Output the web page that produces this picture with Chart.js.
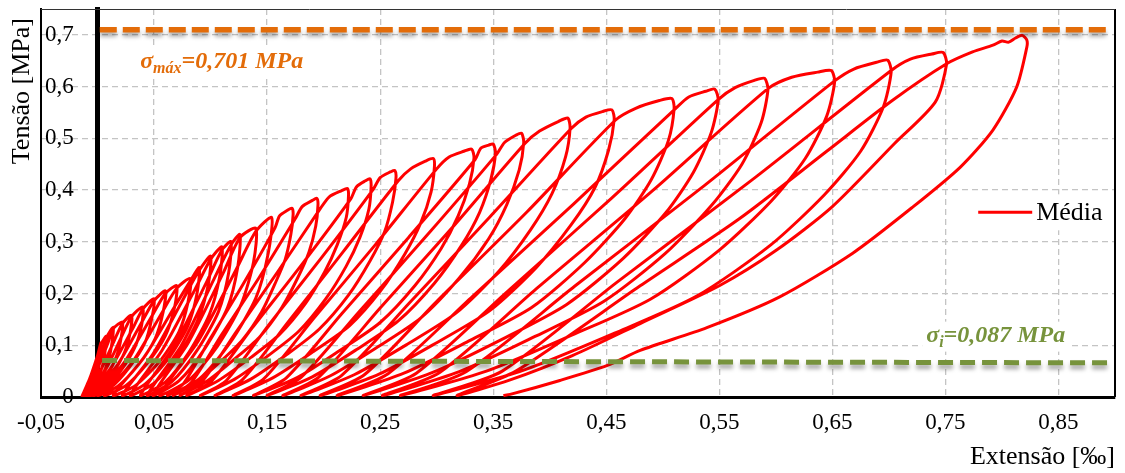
<!DOCTYPE html>
<html>
<head>
<meta charset="utf-8">
<script src="https://cdn.jsdelivr.net/npm/chart.js@4.4.1/dist/chart.umd.min.js"></script>
<style>
  html, body { margin: 0; padding: 0; background: #fff; }
  #wrap { width: 1125px; height: 473px; }
</style>
</head>
<body>
<div id="wrap"><canvas id="grafico" width="1125" height="473"></canvas></div>
<script>
// eixo x - extensão [‰]
const xTickValues = [-0.05, 0.05, 0.15, 0.25, 0.35, 0.45, 0.55, 0.65, 0.75, 0.85];
const xTickLabels = ['-0,05', '0,05', '0,15', '0,25', '0,35', '0,45', '0,55', '0,65', '0,75', '0,85'];
// eixo y - tensão [MPa]
const yTickValues = [0, 0.1, 0.2, 0.3, 0.4, 0.5, 0.6, 0.7];
const yTickLabels = ['0', '0,1', '0,2', '0,3', '0,4', '0,5', '0,6', '0,7'];

// linhas tracejadas de referência
const sigmaMaxX = [0.002, 0.894];
const sigmaMaxY = [0.710, 0.710];
const sigmaIX = [0.004, 0.895];
const sigmaIY = [0.0705, 0.066];

const labelMax = ['σ', 'máx', '=0,701 MPa'];
const labelI = ['σ', 'i', '=0,087 MPa'];
const serieNome = 'Média';

// curva média [extensão, tensão] - ciclos de carga e descarga
const mediaCurve = [
  [-0.014, 0.000],
  // ciclo 1
  [-0.007, 0.035], [0.000, 0.080], [0.003, 0.105],
  [0.002, 0.084], [0.001, 0.058], [-0.003, 0.032], [-0.008, 0.011], [-0.013, 0.003],
  // ciclo 2
  [-0.007, 0.035], [0.000, 0.080], [0.003, 0.102], [0.008, 0.118],
  [0.007, 0.094], [0.005, 0.065], [0.000, 0.035], [-0.007, 0.012], [-0.013, 0.003],
  // ciclo 3
  [-0.005, 0.039], [0.004, 0.090], [0.008, 0.115], [0.014, 0.135],
  [0.013, 0.108], [0.010, 0.074], [0.004, 0.041], [-0.004, 0.014], [-0.012, 0.003],
  // ciclo 4
  [-0.002, 0.045], [0.009, 0.103], [0.014, 0.132], [0.022, 0.145],
  [0.021, 0.116], [0.017, 0.080], [0.009, 0.044], [-0.001, 0.015], [-0.011, 0.003],
  // ciclo 5
  [0.002, 0.048], [0.015, 0.110], [0.022, 0.142], [0.030, 0.158],
  [0.029, 0.126], [0.024, 0.087], [0.014, 0.047], [0.003, 0.016], [-0.009, 0.003],
  // ciclo 6
  [0.007, 0.052], [0.022, 0.120], [0.030, 0.155], [0.040, 0.174],
  [0.039, 0.139], [0.033, 0.096], [0.021, 0.052], [0.007, 0.017], [-0.007, 0.003],
  // ciclo 7
  [0.012, 0.057], [0.031, 0.132], [0.040, 0.170], [0.050, 0.190],
  [0.048, 0.152], [0.042, 0.105], [0.028, 0.057], [0.012, 0.019], [-0.004, 0.003],
  // ciclo 8
  [0.018, 0.063], [0.039, 0.144], [0.050, 0.186], [0.060, 0.205],
  [0.058, 0.164], [0.051, 0.113], [0.036, 0.062], [0.018, 0.021], [0.000, 0.003],
  // ciclo 9
  [0.024, 0.068], [0.048, 0.156], [0.060, 0.200], [0.070, 0.215],
  [0.068, 0.172], [0.060, 0.118], [0.044, 0.065], [0.025, 0.022], [0.006, 0.003],
  // ciclo 10
  [0.032, 0.071], [0.057, 0.163], [0.070, 0.210], [0.082, 0.229],
  [0.080, 0.183], [0.072, 0.126], [0.055, 0.069], [0.034, 0.023], [0.014, 0.003],
  // ciclo 11
  [0.041, 0.076], [0.068, 0.174], [0.082, 0.224], [0.090, 0.250],
  [0.088, 0.200], [0.080, 0.138], [0.063, 0.075], [0.042, 0.025], [0.022, 0.003],
  // ciclo 12
  [0.049, 0.083], [0.076, 0.190], [0.090, 0.245], [0.100, 0.272],
  [0.098, 0.218], [0.089, 0.150], [0.072, 0.082], [0.050, 0.027], [0.029, 0.003],
  // ciclo 13
  [0.057, 0.090], [0.086, 0.207], [0.100, 0.266], [0.110, 0.290],
  [0.108, 0.232], [0.099, 0.160], [0.081, 0.087], [0.060, 0.029], [0.038, 0.003],
  // ciclo 14
  [0.067, 0.096], [0.096, 0.220], [0.110, 0.284], [0.118, 0.300],
  [0.116, 0.240], [0.107, 0.165], [0.088, 0.090], [0.066, 0.030], [0.044, 0.003],
  // ciclo 15
  [0.074, 0.099], [0.103, 0.228], [0.118, 0.294], [0.126, 0.314],
  [0.124, 0.251], [0.115, 0.173], [0.095, 0.094], [0.072, 0.031], [0.049, 0.003],
  // ciclo 16
  [0.080, 0.104], [0.111, 0.239], [0.126, 0.308], [0.140, 0.326],
  [0.138, 0.261], [0.127, 0.179], [0.106, 0.098], [0.081, 0.033], [0.055, 0.003],
  // ciclo 17
  [0.089, 0.108], [0.123, 0.248], [0.140, 0.320], [0.154, 0.347],
  [0.151, 0.278], [0.140, 0.191], [0.117, 0.104], [0.090, 0.035], [0.062, 0.003],
  // ciclo 18
  [0.076, 0.026], [0.100, 0.114], [0.129, 0.219], [0.157, 0.327], [0.161, 0.350], [0.168, 0.361], [0.172, 0.365],
  [0.173, 0.352], [0.171, 0.314], [0.166, 0.266], [0.157, 0.219], [0.145, 0.164], [0.128, 0.110], [0.109, 0.069], [0.088, 0.029], [0.067, 0.003],
  // ciclo 19
  [0.083, 0.028], [0.110, 0.121], [0.143, 0.231], [0.175, 0.345], [0.181, 0.368], [0.190, 0.380], [0.194, 0.384],
  [0.195, 0.371], [0.193, 0.330], [0.187, 0.280], [0.177, 0.230], [0.163, 0.173], [0.143, 0.115], [0.121, 0.073], [0.097, 0.031], [0.073, 0.003],
  // ciclo 20
  [0.092, 0.029], [0.123, 0.127], [0.160, 0.244], [0.197, 0.364], [0.205, 0.387], [0.216, 0.399], [0.221, 0.403],
  [0.222, 0.389], [0.220, 0.347], [0.212, 0.294], [0.201, 0.242], [0.184, 0.181], [0.161, 0.121], [0.136, 0.077], [0.107, 0.032], [0.079, 0.003],
  // ciclo 21
  [0.101, 0.031], [0.137, 0.134], [0.181, 0.257], [0.224, 0.383], [0.229, 0.406], [0.237, 0.418], [0.241, 0.422],
  [0.242, 0.407], [0.240, 0.363], [0.232, 0.308], [0.220, 0.253], [0.202, 0.190], [0.178, 0.127], [0.151, 0.080], [0.121, 0.034], [0.091, 0.003],
  // ciclo 22
  [0.114, 0.032], [0.152, 0.141], [0.198, 0.269], [0.244, 0.402], [0.250, 0.424], [0.259, 0.435], [0.263, 0.438],
  [0.264, 0.423], [0.261, 0.377], [0.254, 0.320], [0.241, 0.263], [0.222, 0.197], [0.196, 0.131], [0.168, 0.083], [0.136, 0.035], [0.104, 0.003],
  // ciclo 23
  [0.128, 0.033], [0.169, 0.146], [0.217, 0.280], [0.266, 0.418], [0.277, 0.441], [0.290, 0.456], [0.297, 0.461],
  [0.298, 0.445], [0.295, 0.396], [0.286, 0.337], [0.272, 0.277], [0.251, 0.207], [0.223, 0.138], [0.191, 0.088], [0.155, 0.037], [0.120, 0.003],
  // ciclo 24
  [0.147, 0.035], [0.192, 0.154], [0.246, 0.295], [0.300, 0.441], [0.311, 0.464], [0.324, 0.475], [0.331, 0.479],
  [0.333, 0.462], [0.329, 0.412], [0.319, 0.350], [0.304, 0.287], [0.281, 0.216], [0.250, 0.144], [0.215, 0.091], [0.177, 0.038], [0.138, 0.003],
  // ciclo 25
  [0.167, 0.037], [0.216, 0.161], [0.275, 0.308], [0.334, 0.459], [0.339, 0.481], [0.346, 0.487], [0.350, 0.489],
  [0.352, 0.472], [0.348, 0.421], [0.338, 0.357], [0.322, 0.293], [0.298, 0.220], [0.266, 0.147], [0.230, 0.093], [0.190, 0.039], [0.150, 0.003],
  // ciclo 26
  [0.180, 0.038], [0.231, 0.164], [0.292, 0.314], [0.353, 0.469], [0.360, 0.492], [0.370, 0.506], [0.375, 0.510],
  [0.377, 0.492], [0.373, 0.439], [0.362, 0.372], [0.346, 0.306], [0.320, 0.230], [0.286, 0.153], [0.248, 0.097], [0.206, 0.041], [0.164, 0.003],
  // ciclo 27
  [0.196, 0.039], [0.250, 0.172], [0.314, 0.328], [0.378, 0.490], [0.391, 0.514], [0.408, 0.533], [0.416, 0.539],
  [0.418, 0.520], [0.414, 0.464], [0.402, 0.393], [0.383, 0.323], [0.355, 0.243], [0.317, 0.162], [0.274, 0.102], [0.227, 0.043], [0.180, 0.003],
  // ciclo 28
  [0.216, 0.042], [0.276, 0.182], [0.347, 0.348], [0.419, 0.519], [0.432, 0.541], [0.447, 0.552], [0.455, 0.555],
  [0.457, 0.536], [0.452, 0.477], [0.440, 0.405], [0.419, 0.333], [0.388, 0.250], [0.347, 0.167], [0.300, 0.105], [0.249, 0.044], [0.197, 0.003],
  // ciclo 29
  [0.236, 0.043], [0.301, 0.187], [0.380, 0.358], [0.458, 0.535], [0.476, 0.558], [0.497, 0.573], [0.508, 0.577],
  [0.510, 0.557], [0.505, 0.496], [0.490, 0.421], [0.467, 0.346], [0.431, 0.260], [0.384, 0.173], [0.330, 0.110], [0.271, 0.046], [0.212, 0.003],
  // ciclo 30
  [0.257, 0.045], [0.332, 0.195], [0.421, 0.373], [0.511, 0.557], [0.523, 0.580], [0.538, 0.591], [0.546, 0.595],
  [0.549, 0.574], [0.543, 0.512], [0.527, 0.434], [0.503, 0.357], [0.465, 0.268], [0.415, 0.179], [0.359, 0.113], [0.297, 0.048], [0.235, 0.003],
  // ciclo 31
  [0.282, 0.046], [0.361, 0.201], [0.455, 0.385], [0.549, 0.575], [0.564, 0.598], [0.581, 0.612], [0.590, 0.616],
  [0.593, 0.594], [0.587, 0.530], [0.570, 0.450], [0.543, 0.370], [0.502, 0.277], [0.448, 0.185], [0.387, 0.117], [0.320, 0.049], [0.252, 0.003],
  // ciclo 32
  [0.303, 0.048], [0.388, 0.209], [0.491, 0.399], [0.593, 0.596], [0.614, 0.618], [0.637, 0.628], [0.649, 0.631],
  [0.652, 0.609], [0.645, 0.543], [0.626, 0.461], [0.596, 0.379], [0.550, 0.284], [0.489, 0.189], [0.420, 0.120], [0.344, 0.050], [0.268, 0.003],
  // ciclo 33
  [0.326, 0.049], [0.422, 0.214], [0.537, 0.409], [0.652, 0.611], [0.669, 0.634], [0.689, 0.647], [0.699, 0.651],
  [0.702, 0.628], [0.695, 0.560], [0.675, 0.475], [0.643, 0.391], [0.595, 0.293], [0.530, 0.195], [0.458, 0.124], [0.377, 0.052], [0.297, 0.003],
  // ciclo 34
  [0.358, 0.050], [0.459, 0.221], [0.581, 0.423], [0.702, 0.631], [0.719, 0.653], [0.738, 0.663], [0.748, 0.666],
  [0.751, 0.643], [0.741, 0.570], [0.705, 0.490], [0.650, 0.368], [0.600, 0.283], [0.550, 0.215], [0.480, 0.142], [0.420, 0.080], [0.365, 0.033], [0.318, 0.003],
  // ciclo 35 (ruptura)
  [0.370, 0.050], [0.480, 0.215], [0.568, 0.345], [0.645, 0.475], [0.703, 0.573], [0.751, 0.644],
  [0.774, 0.667], [0.792, 0.680], [0.800, 0.688], [0.806, 0.686], [0.812, 0.694], [0.818, 0.699],
  [0.822, 0.690], [0.822, 0.676], [0.813, 0.599], [0.792, 0.516], [0.763, 0.444], [0.721, 0.367], [0.668, 0.278],
  [0.603, 0.193], [0.539, 0.134], [0.480, 0.090], [0.451, 0.061], [0.409, 0.032], [0.365, 0.005], [0.359, 0.003]
];

const FONTE = '"Liberation Serif", "Times New Roman", serif';
Chart.defaults.font.family = FONTE;
Chart.defaults.color = '#000';

// sombra nas linhas tracejadas
function sombra(chart, args, on) {
  const ds = chart.data.datasets[args.index];
  if (!ds.sombra) return;
  const ctx = chart.ctx;
  if (on) {
    ctx.save();
    ctx.shadowColor = 'rgba(0,0,0,0.35)';
    ctx.shadowBlur = 4;
    ctx.shadowOffsetY = 4;
  } else {
    ctx.restore();
  }
}

// rótulo σ com subscrito e fundo branco
function rotulo(ctx, x, y, partes, cor) {
  ctx.font = 'italic bold 24px ' + FONTE;
  const w0 = ctx.measureText(partes[0]).width;
  const w2 = ctx.measureText(partes[2]).width;
  ctx.font = 'italic bold 16px ' + FONTE;
  const w1 = ctx.measureText(partes[1]).width;
  ctx.fillStyle = '#fff';
  ctx.fillRect(x - 4, y - 20, w0 + w1 + w2 + 8, 30);
  ctx.fillStyle = cor;
  ctx.textBaseline = 'alphabetic';
  ctx.textAlign = 'left';
  ctx.font = 'italic bold 24px ' + FONTE;
  ctx.fillText(partes[0], x, y);
  ctx.fillText(partes[2], x + w0 + w1, y);
  ctx.font = 'italic bold 16px ' + FONTE;
  ctx.fillText(partes[1], x + w0, y + 5);
}

const decor = {
  id: 'decor',
  beforeDatasetDraw(chart, args) { sombra(chart, args, true); },
  afterDatasetDraw(chart, args) { sombra(chart, args, false); },
  afterDraw(chart) {
    const ctx = chart.ctx;
    const a = chart.chartArea;
    const xs = chart.scales.x, ys = chart.scales.y;
    ctx.save();

    // moldura
    ctx.strokeStyle = '#000';
    ctx.lineWidth = 2;
    ctx.beginPath();
    ctx.moveTo(a.left, a.bottom); ctx.lineTo(a.left, a.top);
    ctx.moveTo(a.right, a.top); ctx.lineTo(a.right, a.bottom);
    ctx.stroke();
    ctx.strokeStyle = '#333';
    ctx.lineWidth = 1;
    ctx.beginPath();
    ctx.moveTo(a.left, a.top + 0.5); ctx.lineTo(a.right, a.top + 0.5);
    ctx.stroke();

    // rótulos
    rotulo(ctx, xs.getPixelForValue(0.0377), ys.getPixelForValue(0.635), labelMax, '#E36C09');
    rotulo(ctx, xs.getPixelForValue(0.733), ys.getPixelForValue(0.107), labelI, '#77933C');

    // legenda
    const lx = xs.getPixelForValue(0.779), ly = ys.getPixelForValue(0.357);
    ctx.fillStyle = '#fff';
    ctx.fillRect(lx - 6, ly - 18, 138, 36);
    ctx.strokeStyle = '#FF0000';
    ctx.lineWidth = 3;
    ctx.beginPath();
    ctx.moveTo(lx, ly); ctx.lineTo(lx + 54, ly);
    ctx.stroke();
    ctx.fillStyle = '#000';
    ctx.font = '26px ' + FONTE;
    ctx.textBaseline = 'middle';
    ctx.textAlign = 'left';
    ctx.fillText(serieNome, lx + 58, ly + 1);

    // título do eixo y
    ctx.translate(22, 18);
    ctx.rotate(-Math.PI / 2);
    ctx.textAlign = 'right';
    ctx.textBaseline = 'middle';
    ctx.font = '26px ' + FONTE;
    ctx.fillText('Tensão [MPa]', 0, 0);
    ctx.restore();
  }
};

const data = {
  datasets: [
    {
      label: 'σmáx',
      data: sigmaMaxX.map((x, i) => ({ x: x, y: sigmaMaxY[i] })),
      borderColor: '#E36C09',
      borderWidth: 5.5,
      borderDash: [17, 6],
      showLine: true,
      pointRadius: 0,
      sombra: true
    },
    {
      label: 'σi',
      data: sigmaIX.map((x, i) => ({ x: x, y: sigmaIY[i] })),
      borderColor: '#77933C',
      borderWidth: 5,
      borderDash: [15, 7],
      showLine: true,
      pointRadius: 0,
      sombra: true
    },
    {
      label: serieNome,
      data: mediaCurve.map(p => ({ x: p[0], y: p[1] })),
      borderColor: '#FF0000',
      borderWidth: 3,
      tension: 0.25,
      showLine: true,
      pointRadius: 0
    }
  ]
};

const config = {
  type: 'scatter',
  data: data,
  options: {
    responsive: false,
    animation: false,
    layout: { padding: { left: 41, right: 10, top: 9, bottom: 0 } },
    plugins: {
      legend: { display: false },
      tooltip: { enabled: false }
    },
    scales: {
      x: {
        type: 'linear',
        min: -0.05,
        max: 0.9,
        afterBuildTicks: s => { s.ticks = xTickValues.map(v => ({ value: v })); },
        afterFit: s => { s.paddingLeft = 0; s.paddingRight = 0; s.height = 76; },
        ticks: {
          callback: (v, i) => xTickLabels[i],
          font: { size: 23 },
          color: '#000',
          padding: 12,
          maxRotation: 0,
          autoSkip: false
        },
        grid: { color: '#c4c4c4', lineWidth: 1.3, drawTicks: false },
        border: { color: '#000', width: 3, dash: [6, 4] },
        title: {
          display: true,
          text: 'Extensão [‰]',
          align: 'end',
          font: { size: 26 },
          color: '#000',
          padding: { top: 0, bottom: 0 }
        }
      },
      y: {
        type: 'linear',
        min: 0,
        max: 0.75,
        position: 'left',
        afterBuildTicks: s => { s.ticks = yTickValues.map(v => ({ value: v })); },
        afterFit: s => { s.paddingTop = 0; s.paddingBottom = 0; s.width = 0; },
        ticks: {
          callback: (v, i) => yTickLabels[i],
          font: { size: 23 },
          color: '#000',
          mirror: true,
          crossAlign: 'far',
          padding: 4
        },
        grid: { color: '#c4c4c4', lineWidth: 1.3, drawTicks: false },
        border: { color: '#000', width: 2, dash: [6, 4] }
      },
      // eixo vertical em extensão = 0
      y0: {
        type: 'linear',
        display: true,
        min: 0,
        max: 0.75,
        position: { x: 0 },
        ticks: { display: false },
        grid: { display: false },
        border: { color: '#000', width: 5 }
      }
    }
  },
  plugins: [decor]
};

const grafico = new Chart(document.getElementById('grafico'), config);
</script>
</body>
</html>
